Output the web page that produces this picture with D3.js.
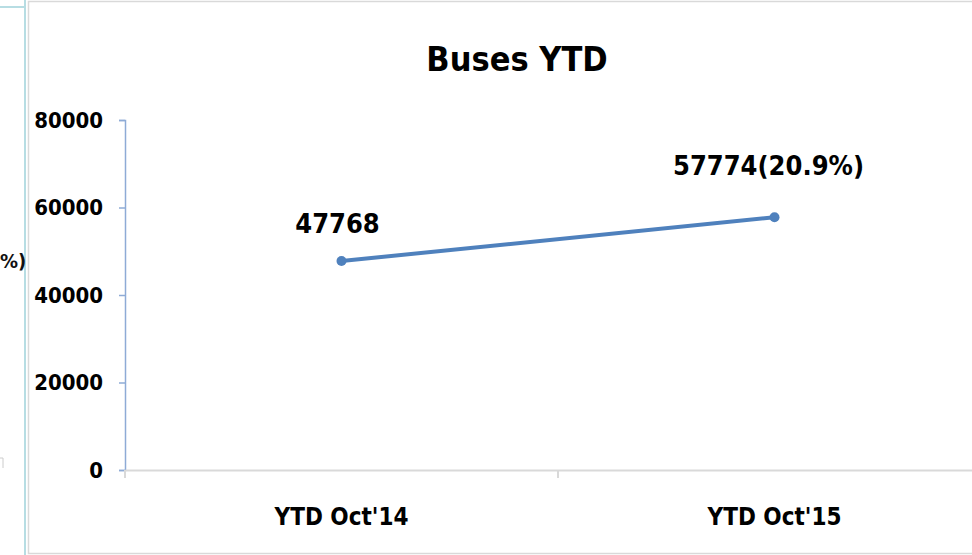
<!doctype html>
<html lang="en">
  <head>
    <meta charset="utf-8">
    <title>Buses YTD</title>
    <style>
      html, body { margin: 0; padding: 0; background: #fff; }
      svg { display: block; }
      text { font-family: "DejaVu Sans Condensed", "Open Sans", sans-serif; font-weight: bold; }
    </style>
  </head>
  <body>
    <script src="https://cdn.jsdelivr.net/npm/d3@7"></script>
    <script>
      var categories = ["YTD Oct'14", "YTD Oct'15"];
      var values     = [47768, 57774];
      var labels     = ["47768", "57774(20.9%)"];
      var yTicks     = [0, 20000, 40000, 60000, 80000];

      var W = 972, H = 555;
      var margin = {top: 120, left: 125, bottom: 85};
      var plotRight = 991;                       // plot runs past the right edge
      var plotBottom = H - margin.bottom;        // 470
      var labelShift = [[-4, -28], [-6, -42]];   // data labels were nudged by hand in the original

      var svg = d3.select("body").append("svg")
        .attr("width", W)
        .attr("height", H);

      // neighbouring panel remnants and chart frame
      svg.append("line").attr("x1", 0).attr("x2", 25).attr("y1", 7).attr("y2", 7)
        .attr("stroke", "#b7dde3").attr("stroke-width", 2);
      svg.append("line").attr("x1", 25).attr("x2", 25).attr("y1", 0).attr("y2", H)
        .attr("stroke", "#b7dde3").attr("stroke-width", 2);
      svg.append("text").attr("x", 0).attr("y", 268)
        .attr("font-size", 20).attr("fill", "#111").text("%)");
      svg.append("path").attr("d", "M0,458 L3,458 L3,468")
        .attr("fill", "none").attr("stroke", "#ccc").attr("stroke-width", 1);
      svg.append("rect").attr("x", 28.5).attr("y", 1.5)
        .attr("width", W).attr("height", H - 3)
        .attr("fill", "none").attr("stroke", "#d9d9d9").attr("stroke-width", 1.5);

      var x = d3.scaleBand()
        .domain(categories)
        .range([margin.left, plotRight]);

      var y = d3.scaleLinear()
        .domain([0, 80000])
        .range([plotBottom, margin.top]);

      // y axis
      var yAxis = svg.append("g")
        .attr("transform", "translate(" + margin.left + ",0)")
        .call(d3.axisLeft(y).tickValues(yTicks).tickSize(6).tickPadding(16).tickFormat(d3.format("d")));
      yAxis.select(".domain").attr("stroke", "#8eabd6").attr("stroke-width", 1.5);
      yAxis.selectAll(".tick line").attr("stroke", "#8eabd6").attr("stroke-width", 1.5);
      yAxis.selectAll(".tick text")
        .attr("font-size", 22).attr("fill", "#000")
        .attr("font-family", null);

      // x axis
      var xAxis = svg.append("g")
        .attr("transform", "translate(0," + plotBottom + ")")
        .call(d3.axisBottom(x).tickSize(0).tickPadding(38));
      xAxis.select(".domain").attr("stroke", "#d9d9d9").attr("stroke-width", 2);
      xAxis.selectAll(".tick text")
        .attr("font-size", 24).attr("fill", "#000")
        .attr("font-family", null);
      // category boundary ticks
      svg.append("g").selectAll("line")
        .data(categories)
        .enter().append("line")
        .attr("x1", function(d){ return x(d); })
        .attr("x2", function(d){ return x(d); })
        .attr("y1", plotBottom)
        .attr("y2", plotBottom + 8)
        .attr("stroke", "#d9d9d9").attr("stroke-width", 2);

      var pts = categories.map(function(c, i){ return {c: c, v: values[i], label: labels[i], i: i}; });

      svg.append("path")
        .datum(pts)
        .attr("fill", "none")
        .attr("stroke", "#4f81bd")
        .attr("stroke-width", 4)
        .attr("d", d3.line()
          .x(function(d){ return x(d.c) + x.bandwidth() / 2; })
          .y(function(d){ return y(d.v); }));

      svg.selectAll(".dot")
        .data(pts)
        .enter().append("circle")
        .attr("cx", function(d){ return x(d.c) + x.bandwidth() / 2; })
        .attr("cy", function(d){ return y(d.v); })
        .attr("r", 5)
        .attr("fill", "#4f81bd");

      svg.selectAll(".lbl")
        .data(pts)
        .enter().append("text")
        .attr("x", function(d){ return x(d.c) + x.bandwidth() / 2 + labelShift[d.i][0]; })
        .attr("y", function(d){ return y(d.v) + labelShift[d.i][1]; })
        .attr("text-anchor", "middle")
        .attr("font-size", 27)
        .attr("fill", "#000")
        .text(function(d){ return d.label; });

      svg.append("text")
        .attr("x", 517)
        .attr("y", 71)
        .attr("text-anchor", "middle")
        .attr("font-size", 34)
        .attr("fill", "#000")
        .text("Buses YTD");
    </script>
  </body>
</html>
